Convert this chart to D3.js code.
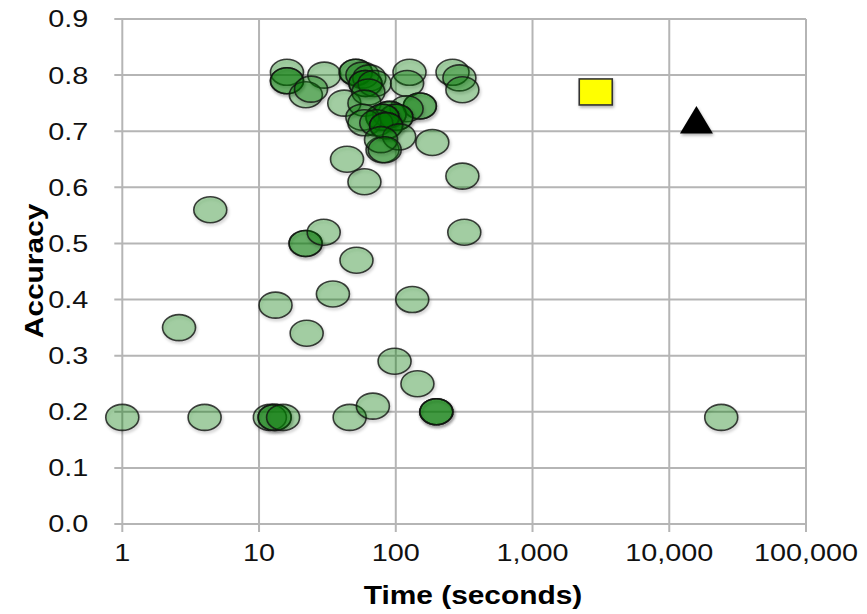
<!DOCTYPE html>
<html><head><meta charset="utf-8">
<script src="https://cdn.jsdelivr.net/npm/d3@7"></script>
<style>body{margin:0;background:#fff}svg{display:block}</style>
</head><body><svg id="c" width="867" height="614"></svg>
<script>
// Data (time in seconds, accuracy)
const circleTimes = [1,4,12,13,13,15,46,68,198,198,198,144,98,24000,
  2.6,13.2,22.3,34.7,132,51.6,21.9,21.9,29.7,4.4,317,307,59,44,80,185,
  16,16,16,30,22,24,42,51,51,57,64,60,60,70,63,126,121,260,292,307,
  59,150,150,120,90,90,101,101,80,80,57,59,72,85,85,106,78,83];
const circleAcc = [0.19,0.19,0.19,0.19,0.19,0.19,0.19,0.21,0.20,0.20,0.20,0.25,0.29,0.19,
  0.35,0.39,0.34,0.41,0.40,0.47,0.50,0.50,0.52,0.56,0.52,0.62,0.61,0.65,0.667,0.68,
  0.805,0.79,0.79,0.80,0.765,0.775,0.75,0.805,0.805,0.80,0.795,0.785,0.785,0.785,0.77,0.805,0.785,0.805,0.795,0.774,
  0.75,0.745,0.745,0.74,0.73,0.73,0.725,0.725,0.725,0.725,0.725,0.715,0.715,0.71,0.71,0.69,0.685,0.667];
const squarePoint = {time: 2900, acc: 0.77};
const trianglePoint = {time: 15800, acc: 0.72};
const xTicks = [1,10,100,1000,10000,100000];
const yTicks = [0,0.1,0.2,0.3,0.4,0.5,0.6,0.7,0.8,0.9];

const svg = d3.select("#c");
const L = 122.3, R = 806, T = 19, B = 524;
const sx = 1.2;
const x = d3.scaleLog().domain([1,100000]).range([L,R]);
const y = d3.scaleLinear().domain([0,0.9]).range([B,T]);
const grid = "#b5b5b5";

const defs = svg.append("defs");
const f = defs.append("filter").attr("id","sh").attr("x","-30%").attr("y","-30%").attr("width","160%").attr("height","170%");
f.append("feDropShadow").attr("dx",1).attr("dy",2).attr("stdDeviation",1.5).attr("flood-color","#000").attr("flood-opacity",0.3);

// gridlines
svg.append("g").selectAll("line").data(yTicks).join("line")
  .attr("x1",L-8).attr("x2",R).attr("y1",d=>y(d)).attr("y2",d=>y(d))
  .attr("stroke",grid).attr("stroke-width",2);
svg.append("g").selectAll("line").data(xTicks).join("line")
  .attr("x1",d=>x(d)).attr("x2",d=>x(d)).attr("y1",T).attr("y2",B+8)
  .attr("stroke",grid).attr("stroke-width",2);

// tick labels
const fmtX = d3.format(",");
svg.append("g").selectAll("text").data(xTicks).join("text")
  .attr("transform",d=>`translate(${x(d)},${B+37}) scale(${sx},1)`)
  .attr("text-anchor","middle").attr("font-family","Liberation Sans, Arial, sans-serif")
  .attr("font-size",24).attr("fill","#111").text(d=>fmtX(d));
svg.append("g").selectAll("text").data(yTicks).join("text")
  .attr("transform",d=>`translate(${L-34},${y(d)}) scale(${sx},1)`)
  .attr("text-anchor","end").attr("dy","0.35em").attr("font-family","Liberation Sans, Arial, sans-serif")
  .attr("font-size",24).attr("fill","#111").text(d=>d.toFixed(1));

// titles
svg.append("text").attr("transform",`translate(473,604) scale(1.15,1)`)
  .attr("text-anchor","middle").attr("font-family","Liberation Sans, Arial, sans-serif")
  .attr("font-weight","bold").attr("font-size",26).attr("fill","#000").text("Time (seconds)");
svg.append("text").attr("transform",`translate(43,271) rotate(-90) scale(1.15,1)`)
  .attr("text-anchor","middle").attr("font-family","Liberation Sans, Arial, sans-serif")
  .attr("font-weight","bold").attr("font-size",26).attr("fill","#000").text("Accuracy");

// circles
const pts = circleTimes.map((t,i)=>({t, a: circleAcc[i]}));
svg.append("g").selectAll("ellipse").data(pts).join("ellipse")
  .attr("cx",d=>x(d.t)).attr("cy",d=>y(d.a)).attr("rx",16.5).attr("ry",13)
  .attr("fill","rgba(0,128,0,0.3)").attr("stroke","rgba(20,20,20,0.8)").attr("stroke-width",1.6)
  .attr("filter","url(#sh)");

// square
svg.append("rect").attr("x",x(squarePoint.time)-16.5).attr("y",y(squarePoint.acc)-13)
  .attr("width",33).attr("height",26).attr("fill","#ffff00").attr("stroke","#333").attr("stroke-width",1.6)
  .attr("filter","url(#sh)");
// triangle
const tx = x(trianglePoint.time), ty = y(trianglePoint.acc);
svg.append("path").attr("d",`M${tx},${ty-14}L${tx+16.5},${ty+13.5}L${tx-16.5},${ty+13.5}Z`)
  .attr("fill","#000").attr("filter","url(#sh)");
</script></body></html>
